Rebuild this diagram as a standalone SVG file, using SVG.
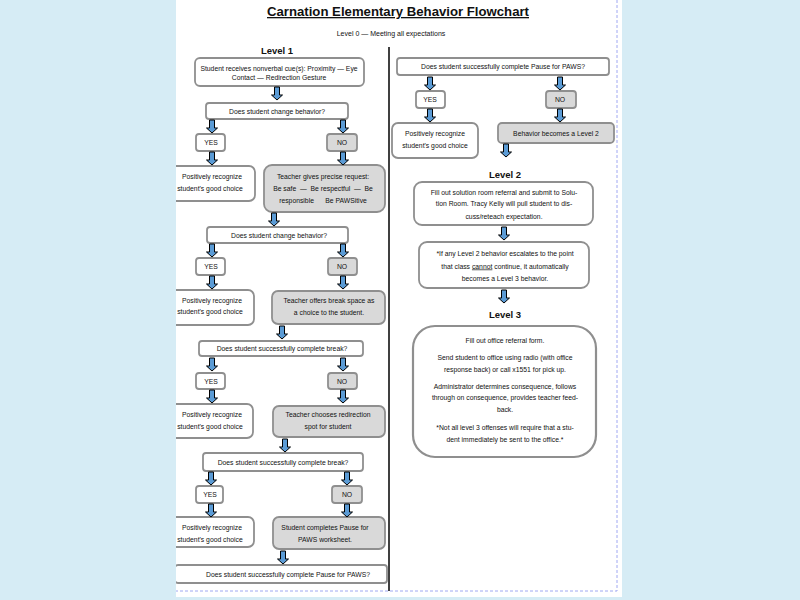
<svg xmlns="http://www.w3.org/2000/svg" width="800" height="600" viewBox="0 0 800 600">
<style>
.b{stroke:#8f8f8f;stroke-width:1.8}
.w{fill:#fff}
.g{fill:#d9d9d9}
text{font-family:"Liberation Sans",Arial,sans-serif;font-size:6.8px;fill:#111;text-anchor:middle;white-space:pre}
.h{font-weight:bold;font-size:9.5px}
.a{fill:#5b9bd5;stroke:#000;stroke-width:1}
</style>
<defs>
<path id="arr" d="M-2.5,0 H2.5 V8 H5.5 L0,13 L-5.5,8 H-2.5 Z"/>
<clipPath id="pg"><rect x="176" y="0" width="446" height="597"/></clipPath>
</defs>
<rect width="800" height="600" fill="#d6ecf5"/>
<rect x="176" y="0" width="446" height="597" fill="#fff"/>
<path d="M617,0 V591 H176" fill="none" stroke="#a0a8f2" stroke-width="1" stroke-dasharray="3,2"/>
<g clip-path="url(#pg)">
<text x="398" y="16" style="font-size:13px;font-weight:bold;text-decoration:underline" textLength="262" lengthAdjust="spacingAndGlyphs">Carnation Elementary Behavior Flowchart</text>
<text x="391" y="36" style="font-size:7px">Level 0 — Meeting all expectations</text>
<line x1="389" y1="47" x2="389" y2="591" stroke="#000" stroke-width="1.5"/>
<text class="h" x="277" y="54">Level 1</text>
<text class="h" x="505" y="178">Level 2</text>
<text class="h" x="505" y="318">Level 3</text>

<g id="n1"><rect class="b w" x="195" y="58" width="169" height="28" rx="5"/><text x="279" y="70.5">Student receives nonverbal cue(s): Proximity — Eye</text><text x="279" y="79.5">Contact — Redirection Gesture</text></g>
<g id="d1"><rect class="b w" x="206" y="103" width="142" height="16" rx="3"/><text x="277" y="113.5">Does student change behavior?</text></g>
<g id="y1"><rect class="b w" x="196" y="134" width="29" height="17" rx="3"/><text x="211" y="145">YES</text></g>
<g id="no1"><rect class="b g" x="327" y="134" width="30" height="17" rx="3"/><text x="342" y="145">NO</text></g>
<g id="p1"><rect class="b w" x="165" y="166" width="90" height="35" rx="6"/><text x="212" y="179">Positively recognize</text><text x="210" y="190.5">student's good choice</text></g>
<g id="t1"><rect class="b g" x="264" y="165" width="121" height="47" rx="8"/><text x="323" y="178.5">Teacher gives precise request:</text><text x="323" y="190.5">Be safe  —  Be respectful  —  Be</text><text x="323" y="203">responsible      Be PAWSitive</text></g>
<g id="d2"><rect class="b w" x="207" y="227" width="141" height="16" rx="3"/><text x="279" y="237.5">Does student change behavior?</text></g>
<g id="y2"><rect class="b w" x="196" y="258" width="29" height="17" rx="3"/><text x="211" y="269">YES</text></g>
<g id="no2"><rect class="b g" x="328" y="258" width="29" height="17" rx="3"/><text x="342" y="269">NO</text></g>
<g id="p2"><rect class="b w" x="165" y="290" width="89" height="35" rx="6"/><text x="212" y="302.5">Positively recognize</text><text x="210" y="314">student's good choice</text></g>
<g id="t2"><rect class="b g" x="272" y="291" width="113" height="33" rx="6"/><text x="329" y="302.5">Teacher offers break space as</text><text x="329" y="315">a choice to the student.</text></g>
<g id="d3"><rect class="b w" x="199" y="341" width="164" height="15" rx="3"/><text x="282" y="350.5">Does student successfully complete break?</text></g>
<g id="y3"><rect class="b w" x="196" y="373" width="29" height="16" rx="3"/><text x="211" y="383.5">YES</text></g>
<g id="no3"><rect class="b g" x="328" y="373" width="29" height="16" rx="3"/><text x="342" y="383.5">NO</text></g>
<g id="p3"><rect class="b w" x="165" y="404" width="88" height="34" rx="6"/><text x="212" y="416.5">Positively recognize</text><text x="210" y="429">student's good choice</text></g>
<g id="t3"><rect class="b g" x="273" y="406" width="112" height="31" rx="6"/><text x="328" y="416.5">Teacher chooses redirection</text><text x="328" y="429">spot for student</text></g>
<g id="d4"><rect class="b w" x="203" y="453" width="160" height="18" rx="3"/><text x="283" y="465">Does student successfully complete break?</text></g>
<g id="y4"><rect class="b w" x="196" y="486" width="27" height="17" rx="3"/><text x="210" y="497">YES</text></g>
<g id="no4"><rect class="b g" x="332" y="486" width="30" height="17" rx="3"/><text x="347" y="497">NO</text></g>
<g id="p4"><rect class="b w" x="165" y="517" width="89" height="30" rx="6"/><text x="212" y="529.5">Positively recognize</text><text x="210" y="541.5">student's good choice</text></g>
<g id="t4"><rect class="b g" x="273" y="517" width="112" height="32" rx="6"/><text x="325" y="529.5">Student completes Pause for</text><text x="325" y="541.5">PAWS worksheet.</text></g>
<g id="d5"><rect class="b w" x="175" y="565" width="212" height="18" rx="3"/><text x="288" y="577">Does student successfully complete Pause for PAWS?</text></g>

<g id="d6"><rect class="b w" x="397" y="58" width="212" height="17" rx="3"/><text x="503" y="69">Does student successfully complete Pause for PAWS?</text></g>
<g id="y6"><rect class="b w" x="416" y="91" width="29" height="17" rx="3"/><text x="430" y="102">YES</text></g>
<g id="no6"><rect class="b g" x="546" y="91" width="30" height="17" rx="3"/><text x="560" y="102">NO</text></g>
<g id="p6"><rect class="b w" x="392" y="123" width="86" height="35" rx="6"/><text x="435" y="135.5">Positively recognize</text><text x="435" y="148">student's good choice</text></g>
<g id="l2"><rect class="b g" x="498" y="123" width="116" height="20" rx="4"/><text x="556" y="135.5">Behavior becomes a Level 2</text></g>
<g id="n2"><rect class="b w" x="414" y="182" width="179" height="43" rx="8"/><text x="504" y="194.5">Fill out solution room referral and submit to Solu-</text><text x="504" y="206">tion Room. Tracy Kelly will pull student to dis-</text><text x="504" y="218.5">cuss/reteach expectation.</text></g>
<g id="n3"><rect class="b w" x="419" y="242" width="170" height="46" rx="8"/><text x="505" y="255.5">*If any Level 2 behavior escalates to the point</text><text x="505" y="268.5">that class <tspan text-decoration="underline">cannot</tspan> continue, it automatically</text><text x="505" y="280.5">becomes a Level 3 behavior.</text></g>
<g id="n4"><rect class="b w" x="413" y="326" width="183" height="131" rx="22" style="stroke-width:2.2"/>
<text x="505" y="342.5">Fill out office referral form.</text>
<text x="505" y="359.5">Send student to office using radio (with office</text>
<text x="505" y="372">response back) or call x1551 for pick up.</text>
<text x="505" y="388.5">Administrator determines consequence, follows</text>
<text x="505" y="400">through on consequence, provides teacher feed-</text>
<text x="505" y="411.5">back.</text>
<text x="505" y="429.5">*Not all level 3 offenses will require that a stu-</text>
<text x="505" y="441.5">dent immediately be sent to the office.*</text></g>
</g>

<g id="connectors" class="a">
<use href="#arr" x="277" y="87"/>
<use href="#arr" x="212" y="120"/><use href="#arr" x="343" y="120"/>
<use href="#arr" x="212" y="152"/><use href="#arr" x="343" y="152"/>
<use href="#arr" x="274" y="213"/>
<use href="#arr" x="212" y="244"/><use href="#arr" x="343" y="244"/>
<use href="#arr" x="212" y="276"/><use href="#arr" x="343" y="276"/>
<use href="#arr" x="282" y="326"/>
<use href="#arr" x="212" y="358"/><use href="#arr" x="343" y="358"/>
<use href="#arr" x="212" y="390"/><use href="#arr" x="343" y="390"/>
<use href="#arr" x="285" y="439"/>
<use href="#arr" x="211" y="472"/><use href="#arr" x="347" y="472"/>
<use href="#arr" x="211" y="504"/><use href="#arr" x="347" y="504"/>
<use href="#arr" x="283" y="551"/>
<use href="#arr" x="430" y="77"/><use href="#arr" x="560" y="77"/>
<use href="#arr" x="430" y="109"/><use href="#arr" x="560" y="109"/>
<use href="#arr" x="506" y="144"/>
<use href="#arr" x="504" y="227"/>
<use href="#arr" x="504" y="290"/>
</g>
</svg>
